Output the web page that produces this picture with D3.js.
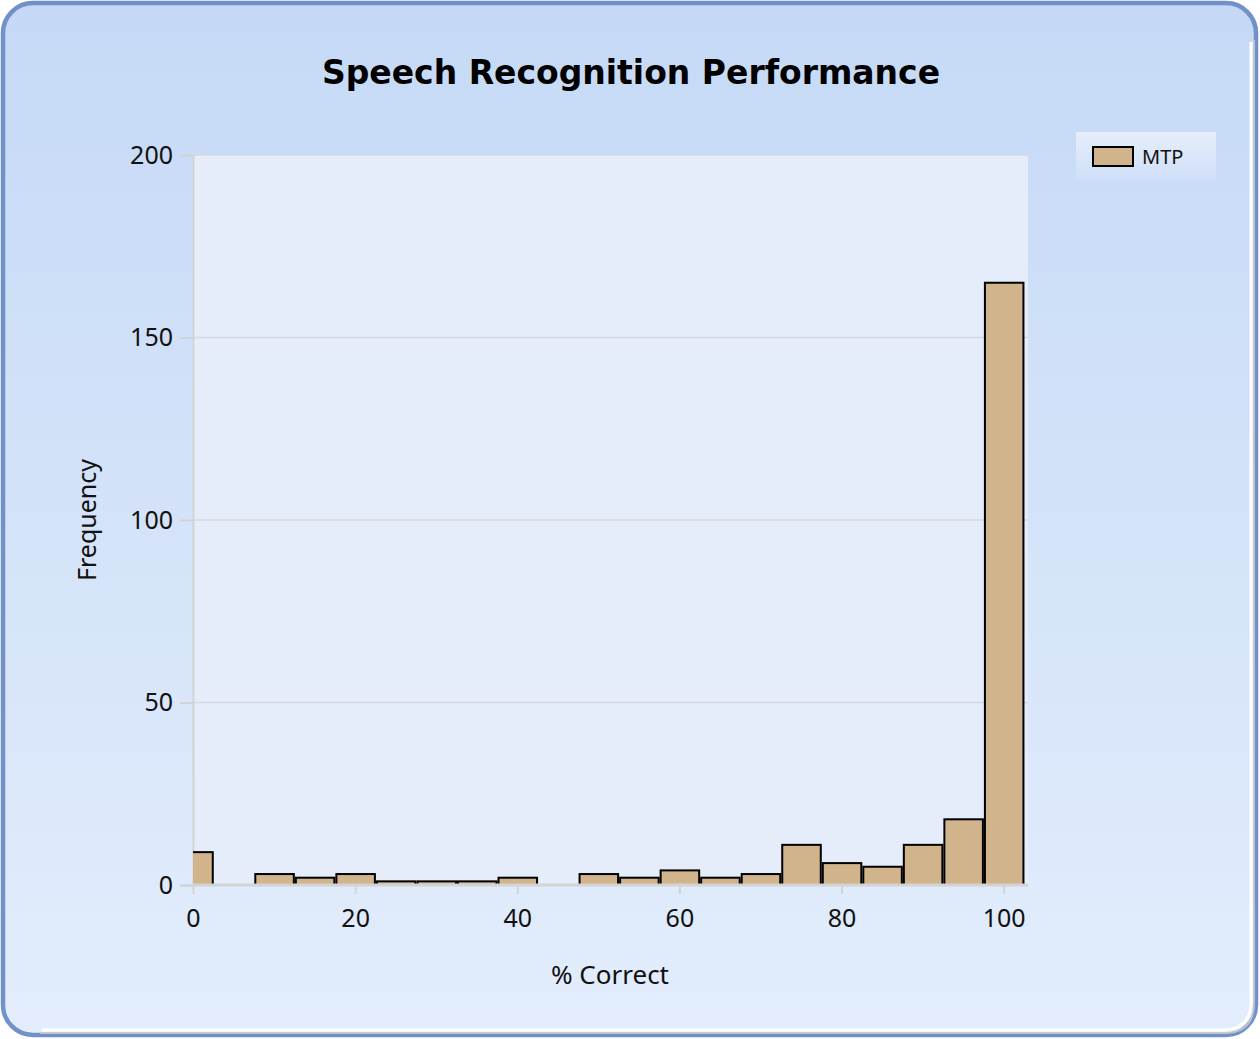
<!DOCTYPE html>
<html><head><meta charset="utf-8">
<script src="https://cdn.jsdelivr.net/npm/d3@7"></script>
<style>body{margin:0;background:#fff;}svg{display:block;}</style>
</head><body>
<svg id="c" width="1260" height="1039"></svg>
<script>
const binCenters = [0,5,10,15,20,25,30,35,40,45,50,55,60,65,70,75,80,85,90,95,100];
const frequencies = [9,0,3,2,3,1,1,1,2,0,3,2,4,2,3,11,6,5,11,18,165];
const xTicks = [0,20,40,60,80,100];
const yTicks = [0,50,100,150,200];
const seriesName = "MTP";
const titleText = "Speech Recognition Performance";
const xLabel = "% Correct";
const yLabel = "Frequency";
const binWidth = 5;

const FONT = "'Noto Sans', 'Open Sans', sans-serif";
const svg = d3.select("#c");
const defs = svg.append("defs");
const bg = defs.append("linearGradient").attr("id","bg").attr("x1",0).attr("y1",0).attr("x2",0).attr("y2",1);
bg.append("stop").attr("offset","0%").attr("stop-color","#C5D9F6");
bg.append("stop").attr("offset","100%").attr("stop-color","#E3EDFC");
const lg = defs.append("linearGradient").attr("id","lg").attr("x1",0).attr("y1",0).attr("x2",0).attr("y2",1);
lg.append("stop").attr("offset","0%").attr("stop-color","#E5EEFC");
lg.append("stop").attr("offset","100%").attr("stop-color","#CFDFF7");
defs.append("clipPath").attr("id","pc").append("rect").attr("x",193).attr("y",140).attr("width",840).attr("height",746);

// frame
svg.append("rect").attr("x",3).attr("y",3).attr("width",1253).attr("height",1032).attr("rx",30)
  .attr("fill","url(#bg)").attr("stroke","#7191CB").attr("stroke-width",4.5);
svg.append("path")
  .attr("d","M1254,40 L1254,1003 Q1254,1033 1224,1033 L40,1033")
  .attr("fill","none").attr("stroke","#C8C8C8").attr("stroke-width",2).attr("opacity",0.9);
svg.append("path")
  .attr("d","M1251,42 L1251,1001 Q1251,1030 1222,1030 L42,1030")
  .attr("fill","none").attr("stroke","#FFFFFF").attr("stroke-width",3);

const m = {l:193, r:1028, t:155, b:885};
const x = d3.scaleLinear().domain([0,103]).range([m.l,m.r]);
const y = d3.scaleLinear().domain([0,200]).range([m.b,m.t]);

svg.append("rect").attr("x",m.l).attr("y",m.t).attr("width",m.r-m.l).attr("height",m.b-m.t).attr("fill","#E5EDFA");

// gridlines
svg.append("g").selectAll("line").data(yTicks.filter(d=>d>0)).join("line")
  .attr("x1",m.l).attr("x2",m.r).attr("y1",d=>y(d)).attr("y2",d=>y(d))
  .attr("stroke","#D6D9DE").attr("stroke-width",1.5);

// y axis
const ya = svg.append("g").attr("transform",`translate(${m.l},0)`)
  .call(d3.axisLeft(y).tickValues(yTicks).tickSize(13).tickPadding(7));
ya.select(".domain").attr("stroke","#D3D3D3").attr("stroke-width",2);
ya.selectAll(".tick line").attr("stroke","#D3D3D3").attr("stroke-width",2);
ya.selectAll("text").attr("font-family",FONT).attr("font-size",25).attr("fill","#111");

// bars
svg.append("g").attr("clip-path","url(#pc)").selectAll("rect")
  .data(binCenters.map((c,i)=>({c, v:frequencies[i]})).filter(d=>d.v>0)).join("rect")
  .attr("x",d=>x(d.c-binWidth/2)+1.5).attr("width",d=>x(d.c+binWidth/2)-x(d.c-binWidth/2)-2)
  .attr("y",d=>y(d.v)).attr("height",d=>y(0)-y(d.v))
  .attr("fill","#D2B48C").attr("stroke","#000").attr("stroke-width",2);

// x axis
const xa = svg.append("g").attr("transform",`translate(0,${m.b})`)
  .call(d3.axisBottom(x).tickValues(xTicks).tickSize(9).tickPadding(15));
xa.select(".domain").attr("stroke","#D3D3D3").attr("stroke-width",3).attr("d",`M${m.l},0H${m.r}`);
xa.selectAll(".tick line").attr("stroke","#D3D3D3").attr("stroke-width",2);
xa.selectAll("text").attr("font-family",FONT).attr("font-size",25).attr("fill","#111");

// title
svg.append("text").attr("x",631).attr("y",84).attr("text-anchor","middle")
  .attr("font-family","'DejaVu Sans', Verdana, sans-serif").attr("font-weight","bold").attr("font-size",33)
  .attr("fill","#000").text(titleText);

// axis labels
svg.append("text").attr("x",610).attr("y",984).attr("text-anchor","middle")
  .attr("font-family",FONT).attr("font-size",26).attr("fill","#111").text(xLabel);
svg.append("text").attr("transform","translate(96,520) rotate(-90)").attr("text-anchor","middle")
  .attr("font-family",FONT).attr("font-size",25).attr("fill","#111").text(yLabel);

// legend
svg.append("rect").attr("x",1076).attr("y",132).attr("width",140).attr("height",49).attr("fill","url(#lg)");
svg.append("rect").attr("x",1093).attr("y",147).attr("width",40).attr("height",19).attr("fill","#D2B48C").attr("stroke","#000").attr("stroke-width",2);
svg.append("text").attr("x",1142).attr("y",164).attr("font-family",FONT)
  .attr("font-size",20).attr("fill","#111").text(seriesName);
</script>
</body></html>
